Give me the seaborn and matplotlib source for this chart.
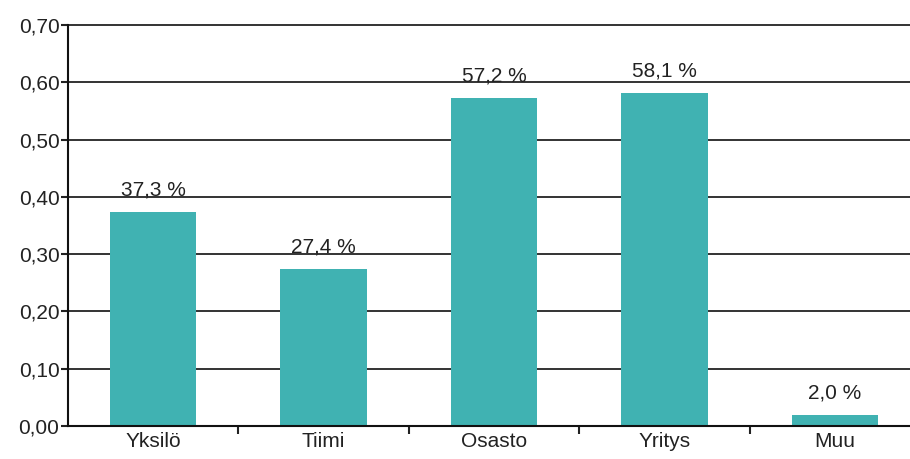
import matplotlib
matplotlib.use("Agg")
import matplotlib.pyplot as plt
import seaborn as sns
import pandas as pd
from matplotlib.ticker import FixedLocator, FuncFormatter

categories = ["Yksilö", "Tiimi", "Osasto", "Yritys", "Muu"]
values = [0.373, 0.274, 0.572, 0.581, 0.020]
labels = ["37,3 %", "27,4 %", "57,2 %", "58,1 %", "2,0 %"]
yticks = [0.0, 0.1, 0.2, 0.3, 0.4, 0.5, 0.6, 0.7]

sns.set_theme(style="white")
plt.rcParams['font.family'] = ['Liberation Sans', 'DejaVu Sans']

df = pd.DataFrame({"cat": categories, "val": values})

fig = plt.figure(figsize=(9.1, 4.59), dpi=100)
left = 67.75 / 910
right = 920.25 / 910
ax = fig.add_axes([left, 0.0719, right - left, 0.9455 - 0.0719])

sns.barplot(data=df, x="cat", y="val", color="#40B2B2", saturation=1,
            width=0.505, ax=ax, zorder=3, linewidth=0)

ax.set_xlim(-0.5, 4.5)
ax.set_ylim(0, 0.70)
ax.set_yticks(yticks)
ax.yaxis.set_major_formatter(FuncFormatter(lambda v, p: f"{v:.2f}".replace(".", ",")))
for y in yticks[1:]:
    ax.axhline(y, color="#333333", lw=1.4, zorder=1, clip_on=False)

ax.set_xlabel("")
ax.set_ylabel("")
ax.xaxis.set_minor_locator(FixedLocator([0.5, 1.5, 2.5, 3.5]))
ax.tick_params(axis="x", which="major", length=0, labelsize=15, pad=4, colors="#222222")
ax.tick_params(axis="x", which="minor", length=6, width=1.5, color="#222222", direction="out", bottom=True)
ax.tick_params(axis="y", which="major", length=5, width=1.5, color="#222222", labelsize=15, pad=1, labelcolor="#222222", left=True)

for s in ["top", "right"]:
    ax.spines[s].set_visible(False)
for s in ["left", "bottom"]:
    ax.spines[s].set_color("#111111")
    ax.spines[s].set_linewidth(1.5)
    ax.spines[s].set_zorder(4)

for i, (v, t) in enumerate(zip(values, labels)):
    ax.annotate(t, xy=(i, v), xytext=(0, 9), textcoords="offset points",
                ha="center", va="bottom", fontsize=15, color="#222222", zorder=5)

fig.savefig("out.png", dpi=100)
